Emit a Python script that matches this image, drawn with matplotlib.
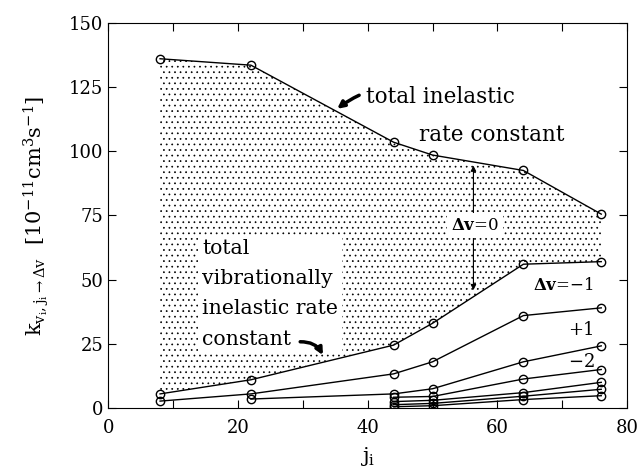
import numpy as np
import matplotlib
matplotlib.use('Agg')
import matplotlib.pyplot as plt
from matplotlib.ticker import MultipleLocator

plt.rcParams['font.family'] = 'DejaVu Serif'
plt.rcParams['mathtext.fontset'] = 'dejavuserif'
plt.rcParams['hatch.linewidth'] = 0.5

# rotational quantum number j_i
j = [8, 22, 44, 50, 64, 76]

# rate constants (10^-11 cm^3 s^-1)
total_inel = [136.0, 133.5, 103.5, 98.5, 92.5, 75.5]
total_vib = [5.5, 11.0, 24.5, 33.0, 56.0, 57.0]
dv_m1 = [2.7, 5.5, 13.3, 18.0, 36.0, 39.0]
dv_p1 = [np.nan, 3.5, 5.5, 7.5, 18.0, 24.2]
dv_m2 = [np.nan, np.nan, 4.2, 4.5, 11.3, 15.0]
dv_p2 = [np.nan, np.nan, 2.5, 3.0, 6.0, 10.0]
dv_m3 = [np.nan, np.nan, 1.3, 1.8, 4.6, 7.3]
dv_p3 = [np.nan, np.nan, 0.5, 0.9, 3.3, 4.8]

fig = plt.figure(figsize=(6.4, 4.75), dpi=100)
ax = fig.add_axes([0.169, 0.141, 0.811, 0.811])

# stippled region = elastic-in-v (dv = 0) part
ax.fill_between(j, total_vib, total_inel, hatch='...', facecolor='none',
                edgecolor='black', linewidth=0)

for ys in [total_inel, total_vib, dv_m1, dv_p1, dv_m2, dv_p2, dv_m3, dv_p3]:
    ax.plot(j, ys, color='black', lw=1.0, marker='o', ms=6,
            mfc='none', mec='black', mew=1.0)

ax.set_xlim(0, 80)
ax.set_ylim(0, 150)
ax.xaxis.set_major_locator(MultipleLocator(20))
ax.xaxis.set_minor_locator(MultipleLocator(10))
ax.yaxis.set_major_locator(MultipleLocator(25))
ax.tick_params(which='both', direction='in', top=True, right=True,
               length=6, width=0.8, labelsize=13)
ax.tick_params(axis='x', pad=8)

ax.set_xlabel(r'$\mathrm{j_i}$', fontsize=15, labelpad=6)
ax.set_ylabel(r'$\mathrm{k_{v_i,j_i\rightarrow\Delta v}}$  [10$^{-11}$cm$^3$s$^{-1}$]',
              fontsize=15, labelpad=13)

# labels
ax.annotate('total inelastic', xy=(35.3, 116.5), xytext=(39.7, 121.3),
            fontsize=15.5, va='center', ha='left',
            arrowprops=dict(arrowstyle='-|>', lw=2.5, color='black',
                            connectionstyle='arc3,rad=0.3', shrinkA=3, shrinkB=0,
                            mutation_scale=10))
ax.text(47.9, 106.5, 'rate constant', fontsize=15.5, va='center', ha='left')

ax.annotate('', xy=(56.3, 94.4), xytext=(56.3, 45.9),
            arrowprops=dict(arrowstyle='<|-|>', lw=0.8, color='black',
                            mutation_scale=8, shrinkA=0, shrinkB=0))
ax.text(56.5, 71, r'$\mathbf{\Delta v}$=0', fontsize=12, ha='center', va='center',
        bbox=dict(facecolor='white', edgecolor='none', pad=3))

ax.text(70.1, 47.8, r'$\mathbf{\Delta v}$=$-$1', fontsize=12, ha='center', va='center')
ax.text(72.9, 30.3, '+1', fontsize=13, ha='center', va='center')
ax.text(72.9, 18.0, '$-$2', fontsize=13, ha='center', va='center')

ax.text(14.5, 44.5, 'total\nvibrationally\ninelastic rate\nconstant',
        fontsize=14.7, ha='left', va='center', linespacing=1.75,
        bbox=dict(facecolor='white', edgecolor='none', pad=3))
ax.annotate('', xy=(33.1, 20.6), xytext=(29.6, 25.8),
            arrowprops=dict(arrowstyle='-|>', lw=2.5, color='black',
                            connectionstyle='arc3,rad=-0.3', shrinkA=0, shrinkB=0,
                            mutation_scale=10))

fig.savefig('out.png', dpi=100)
